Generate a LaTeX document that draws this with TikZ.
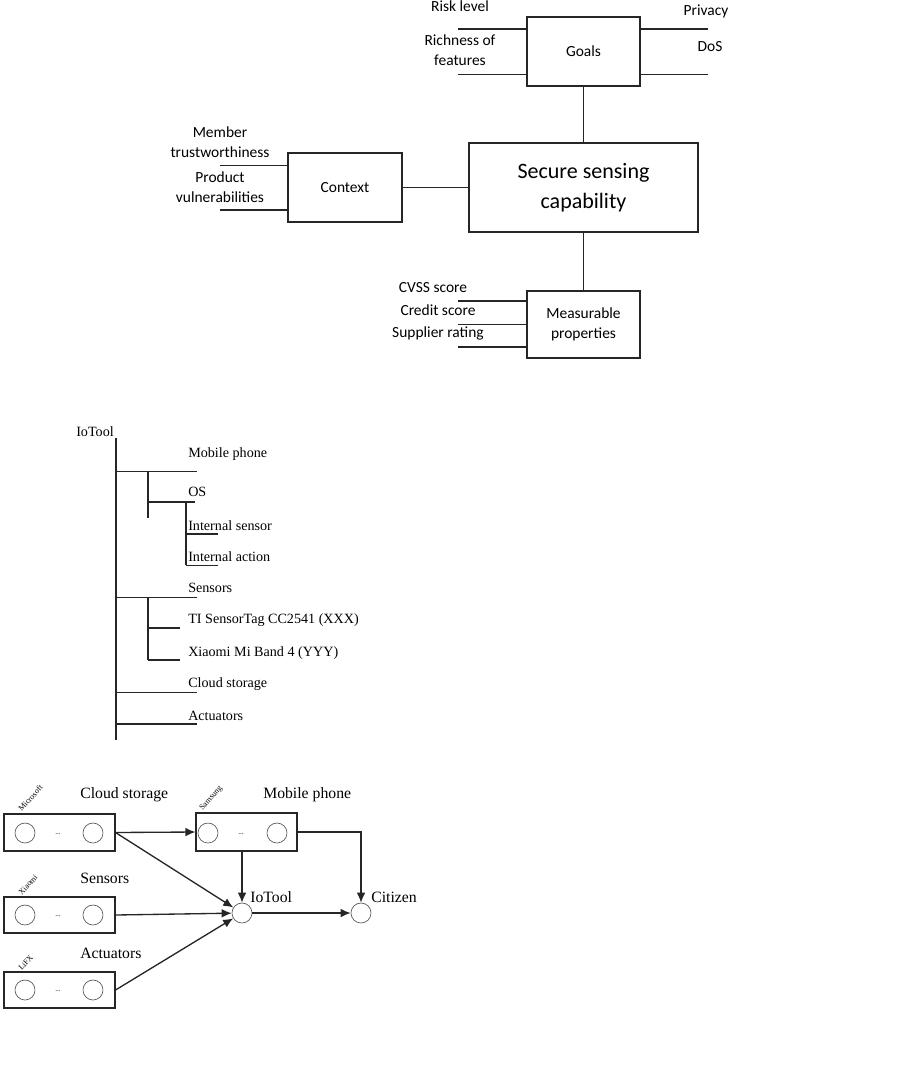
\documentclass[tikz,border=0pt]{standalone}
\usepackage{fontspec}
\setmainfont{Liberation Serif}
\newfontfamily\calfont{Carlito}
\usetikzlibrary{arrows.meta}
\begin{document}
\begin{tikzpicture}[x=0.75pt,y=-0.75pt,
  line cap=butt,
  ln/.style={draw=black!85, line width=0.75pt},
  thk/.style={draw=black!85, line width=1.6pt},
  cbox/.style={draw=black!85, line width=1.2pt, rectangle, inner sep=0pt, font=\calfont\fontsize{11.6}{15}\selectfont, align=center},
  clab/.style={inner sep=0pt, font=\calfont\fontsize{11.6}{15}\selectfont, align=center},
  tlab/.style={anchor=west, inner sep=0pt, font=\fontsize{10.6}{12}\selectfont},
  blab/.style={anchor=west, inner sep=0pt, font=\fontsize{11.8}{14}\selectfont},
  bbox/.style={draw=black!85, line width=0.8pt, rectangle, inner sep=0pt},
  circ/.style={draw=black!65, line width=0.5pt, circle, minimum size=15pt, inner sep=0pt},
  rlab/.style={anchor=south west, rotate=48, inner sep=0pt, font=\fontsize{6}{7}\selectfont},
  dots/.style={inner sep=0pt, font=\fontsize{5.5}{6}\selectfont},
  arr/.style={draw=black!85, line width=1pt, -{Latex[length=7.5pt,width=6.5pt]}},
]
\useasboundingbox (0,0) rectangle (901,1068);

% ---------------- top diagram ----------------
\node[cbox, minimum width=84.75pt, minimum height=51.75pt] (goals) at (583.5,51.5) {Goals};
\node[cbox, minimum width=171.75pt, minimum height=66.75pt, font=\calfont\fontsize{16.5}{22.5}\selectfont] (sec) at (583.5,187.5) {Secure sensing\\capability};
\node[cbox, minimum width=85.5pt, minimum height=51.75pt] (ctx) at (345,187.5) {Context};
\node[cbox, minimum width=84.75pt, minimum height=50.25pt] (meas) at (583.5,324.5) {Measurable\\properties};

\draw[ln] (goals.south) -- (sec.north);
\draw[ln] (sec.south) -- (meas.north);
\draw[draw=black!85, line width=1.3pt] (ctx.east) -- (sec.west);

% goals stubs
\coordinate (gl1) at (458,29);
\coordinate (gl2) at (458,74);
\coordinate (gr1) at (708,29);
\coordinate (gr2) at (708,74);
\draw[thk] (gl1) -- (gl1 -| goals.west);
\draw[ln] (gl2) -- (gl2 -| goals.west);
\draw[thk] (gr1) -- (gr1 -| goals.east);
\draw[ln] (gr2) -- (gr2 -| goals.east);
\node[clab] (risk) at (460,6) {Risk level};
\node[clab] (rich) at (460,50) {Richness of\\features};
\node[clab] (priv) at (706,11) {Privacy};
\node[clab] (dos) at (710,47) {DoS};

% context stubs
\coordinate (cl1) at (220,165);
\coordinate (cl2) at (220,210);
\draw[ln] (cl1) -- (cl1 -| ctx.west);
\draw[thk] (cl2) -- (cl2 -| ctx.west);
\node[clab] (memb) at (220,142) {Member\\trustworthiness};
\node[clab] (prod) at (220,187) {Product\\vulnerabilities};

% measurable stubs
\coordinate (ml1) at (458,301);
\coordinate (ml2) at (458,324);
\coordinate (ml3) at (458,347);
\draw[thk] (ml1) -- (ml1 -| meas.west);
\draw[ln] (ml2) -- (ml2 -| meas.west);
\draw[thk] (ml3) -- (ml3 -| meas.west);
\node[clab] (cvss) at (433,288) {CVSS score};
\node[clab] (cred) at (438,310) {Credit score};
\node[clab] (supp) at (438,333) {Supplier rating};

% ---------------- tree ----------------
\node[tlab] (troot) at (76,432) {IoTool};
\draw[thk, line width=1.5pt] (116,438) -- (116,740);
\draw[ln] (116,471) -- (197,471);
\draw[thk, line width=1.5pt] (148,471) -- (148,518);
\draw[thk, line width=1.5pt] (148,502) -- (195,502);
\draw[thk, line width=1.5pt] (186,502) -- (186,565);
\draw[thk, line width=1.5pt] (186,534) -- (218,534);
\draw[ln] (186,565) -- (218,565);
\draw[ln] (116,597) -- (197,597);
\draw[thk, line width=1.5pt] (148,597) -- (148,660);
\draw[thk, line width=1.5pt] (148,628) -- (180,628);
\draw[thk, line width=1.5pt] (148,660) -- (180,660);
\draw[ln] (116,692) -- (197,692);
\draw[thk, line width=1.5pt] (116,724) -- (197,724);

\node[tlab] (tmob) at (188,454) {Mobile phone};
\node[tlab] (tos) at (188,492) {OS};
\node[tlab] (tis) at (188,526) {Internal sensor};
\node[tlab] (tia) at (188,557) {Internal action};
\node[tlab] (tsen) at (188,588) {Sensors};
\node[tlab] (tti) at (188,620) {TI SensorTag CC2541 (XXX)};
\node[tlab] (txi) at (188,653) {Xiaomi Mi Band 4 (YYY)};
\node[tlab] (tcl) at (188,684) {Cloud storage};
\node[tlab] (tac) at (188,716) {Actuators};

% ---------------- bottom diagram ----------------
\node[bbox, minimum width=83.25pt, minimum height=27.75pt] (ms) at (59.5,832.5) {};
\node[bbox, minimum width=83.25pt, minimum height=27pt] (xi) at (59.5,915) {};
\node[bbox, minimum width=83.25pt, minimum height=27pt] (lx) at (59.5,990) {};
\node[bbox, minimum width=75.75pt, minimum height=28.5pt] (sam) at (246.5,832) {};

\node[circ] (ms1) at (25,833) {};
\node[circ] (ms2) at (93,833) {};
\node[dots] (msd) at (58,834) {...};
\node[circ] (xi1) at (25,915) {};
\node[circ] (xi2) at (93,915) {};
\node[dots] (xid) at (58,916) {...};
\node[circ] (lx1) at (25,990) {};
\node[circ] (lx2) at (93,990) {};
\node[dots] (lxd) at (58,991) {...};
\node[circ] (sa1) at (208,833) {};
\node[circ] (sa2) at (277,833) {};
\node[dots] (sad) at (241,834) {...};

\node[rlab] (msl) at (22,812) {Microsoft};
\node[rlab] (xil) at (22,896) {Xiaomi};
\node[rlab] (lxl) at (22,971) {LiFX};
\node[rlab] (sal) at (204,812) {Samsung};

\node[blab] (lcl) at (80,795) {Cloud storage};
\node[blab] (lse) at (80,878) {Sensors};
\node[blab] (lac) at (80,953) {Actuators};
\node[blab] (lmo) at (263,795) {Mobile phone};

\node[circ] (iot) at (242,913) {};
\node[circ] (cit) at (361,913) {};
\node[blab] (liot) at (250,897) {IoTool};
\node[blab] (lcit) at (371,897) {Citizen};

\draw[arr] (ms.east) -- (sam.west);
\draw[arr] (ms.east) -- (iot);
\draw[arr] (xi.east) -- (iot);
\draw[arr] (lx.east) -- (iot);
\draw[arr] (sam.south -| iot) -- (iot);
\draw[arr] (sam.east) -| (cit);
\draw[arr] (iot) -- (cit);
\end{tikzpicture}
\end{document}
